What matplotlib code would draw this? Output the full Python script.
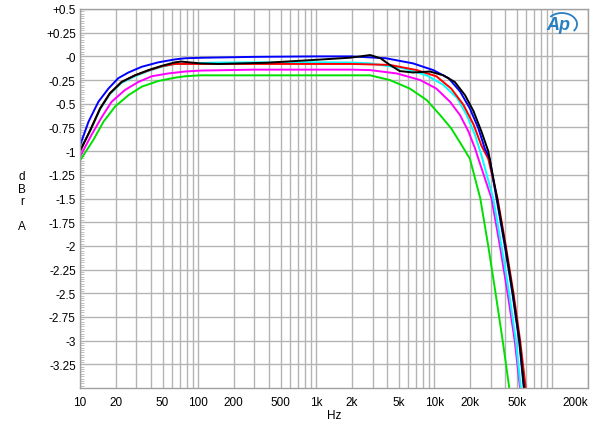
import numpy as np
import matplotlib.pyplot as plt
from matplotlib.patches import Arc
from matplotlib.ticker import FixedLocator, NullFormatter, MultipleLocator

plt.rcParams['font.family'] = ['Liberation Sans', 'DejaVu Sans']

# frequency response, Hz vs dBr
blue_f = [10, 11.8, 14.3, 17.4, 21.1, 25.7, 33.3, 46, 63.7, 77.5, 104, 300, 1000, 2000, 3900, 6600, 9800, 13200, 16500, 20000, 23600, 26700, 29400, 33600, 39500, 45800, 52200, 57200]
blue_db = [-0.94, -0.69, -0.48, -0.34, -0.23, -0.17, -0.11, -0.063, -0.032, -0.02, -0.015, -0.005, 0.0, 0.0, -0.02, -0.074, -0.145, -0.23, -0.37, -0.55, -0.76, -0.97, -1.08, -1.5, -2.0, -2.5, -3.0, -3.5]

cyan_f = [10, 12.2, 14.8, 17.9, 22.5, 29.2, 37.9, 49.2, 63.7, 77.5, 104, 150, 300, 1000, 2000, 2860, 5500, 8600, 11900, 15600, 18800, 22100, 25000, 31500, 37000, 43000, 49000, 54000]
cyan_db = [-0.98, -0.79, -0.56, -0.40, -0.28, -0.21, -0.155, -0.11, -0.08, -0.08, -0.07, -0.065, -0.063, -0.063, -0.065, -0.074, -0.127, -0.20, -0.30, -0.44, -0.62, -0.83, -1.04, -1.5, -2.0, -2.5, -3.0, -3.5]

red_f = [10, 12.2, 14.8, 17.9, 22.5, 29.2, 37.9, 49.2, 63.7, 104, 300, 1000, 2000, 4200, 7100, 10400, 13900, 17600, 21500, 25000, 28600, 34300, 40300, 46800, 53300, 59400]
red_db = [-1.0, -0.78, -0.55, -0.39, -0.27, -0.20, -0.15, -0.105, -0.08, -0.08, -0.08, -0.08, -0.08, -0.09, -0.145, -0.21, -0.34, -0.51, -0.72, -0.94, -1.08, -1.5, -2.0, -2.5, -3.0, -3.5]

black_f = [10, 12.2, 14.8, 17.9, 22.5, 29.2, 37.9, 49.2, 63.7, 72, 104, 150, 383, 886, 1940, 2860, 3500, 4200, 5100, 6600, 9200, 11900, 14900, 18200, 21500, 25000, 28600, 34000, 39900, 46200, 52600, 57600]
black_db = [-1.0, -0.78, -0.55, -0.39, -0.27, -0.20, -0.145, -0.10, -0.063, -0.055, -0.074, -0.08, -0.067, -0.04, -0.014, 0.014, -0.02, -0.09, -0.155, -0.17, -0.16, -0.20, -0.27, -0.41, -0.58, -0.79, -1.0, -1.5, -2.0, -2.5, -3.0, -3.5]

magenta_f = [10, 12.5, 15.3, 18.5, 24, 31.2, 40.5, 55.9, 77.5, 104, 300, 1000, 2000, 2860, 4800, 7600, 10400, 13600, 16500, 19400, 22100, 23600, 30500, 35900, 41700, 47900, 53200]
magenta_db = [-1.06, -0.83, -0.64, -0.48, -0.355, -0.27, -0.21, -0.18, -0.16, -0.15, -0.14, -0.14, -0.14, -0.145, -0.18, -0.25, -0.34, -0.48, -0.62, -0.79, -0.97, -1.08, -1.5, -2.0, -2.5, -3.0, -3.5]

green_f = [10, 13, 15.8, 19.8, 25.7, 33.3, 46, 63.7, 77.5, 104, 300, 1000, 2000, 2860, 4200, 6200, 8600, 11200, 13900, 17100, 20000, 24500, 28600, 33000, 37900, 43100]
green_db = [-1.1, -0.88, -0.69, -0.53, -0.41, -0.32, -0.26, -0.225, -0.21, -0.20, -0.20, -0.20, -0.20, -0.20, -0.25, -0.34, -0.46, -0.62, -0.76, -0.94, -1.08, -1.5, -2.0, -2.5, -3.0, -3.5]

y_ticks = [0.5, 0.25, 0, -0.25, -0.5, -0.75, -1, -1.25, -1.5, -1.75, -2, -2.25, -2.5, -2.75, -3, -3.25]
y_labels = ['+0.5', '+0.25', '-0', '-0.25', '-0.5', '-0.75', '-1', '-1.25', '-1.5', '-1.75', '-2', '-2.25', '-2.5', '-2.75', '-3', '-3.25']
x_ticks = [10, 20, 50, 100, 200, 500, 1000, 2000, 5000, 10000, 20000, 50000, 200000]
x_labels = ['10', '20', '50', '100', '200', '500', '1k', '2k', '5k', '10k', '20k', '50k', '200k']

fig = plt.figure(figsize=(6, 4.31), dpi=100)
ax = fig.add_axes([80/600, 1 - 389/431, 508/600, 379/431])

series = [
    (green_f, green_db, '#00e000'),
    (magenta_f, magenta_db, '#ff00ff'),
    (cyan_f, cyan_db, '#00ffff'),
    (red_f, red_db, '#ff0000'),
    (blue_f, blue_db, '#0000ff'),
    (black_f, black_db, '#000000'),
]
for f, db, c in series:
    ax.plot(f, db, color=c, lw=1.4, solid_joinstyle='round', solid_capstyle='butt')

ax.set_xscale('log')
ax.set_xlim(10, 200000)
ax.set_ylim(-3.5, 0.5)

ax.set_xticks(x_ticks)
ax.set_xticklabels(x_labels)
ax.get_xticklabels()[-1].set_horizontalalignment('right')
minor_x = [m * 10**d for d in range(1, 6) for m in range(1, 10) if 10 <= m * 10**d <= 200000]
ax.xaxis.set_minor_locator(FixedLocator(minor_x))
ax.xaxis.set_minor_formatter(NullFormatter())
ax.set_yticks(y_ticks)
ax.set_yticklabels(y_labels)
ax.yaxis.set_minor_locator(MultipleLocator(0.025))

ax.grid(True, which='major', color='#b4b4b4', lw=1.0)
ax.grid(True, which='minor', axis='x', color='#b4b4b4', lw=1.0)
ax.set_axisbelow(True)

ax.tick_params(axis='x', which='major', labelsize=8.5, length=0, pad=6)
ax.tick_params(axis='y', which='major', labelsize=8.5, length=0, pad=3)
ax.tick_params(axis='x', which='minor', length=0)
ax.tick_params(axis='y', which='minor', direction='in', length=3, color='#b4b4b4', width=0.6)
for s in ax.spines.values():
    s.set_color('#a0a0a0')
    s.set_linewidth(1.0)

fig.text(22/600, 1 - 202/431, 'd\nB\nr\n\nA', ha='center', va='center', fontsize=8.5, linespacing=1.05)
fig.text(334/600, 1 - 416/431, 'Hz', ha='center', va='center', fontsize=8.5)

# Ap logo
fig.text(558/600, 1 - 25/431, 'Ap', ha='center', va='center', fontsize=13, style='italic',
         fontweight='bold', color='#2a7fc0')
fig.patches.append(Arc((562/600, 1 - 25/431), 30/600, 22/431, angle=20, theta1=-60, theta2=120,
                       transform=fig.transFigure, color='#2a7fc0', lw=1.3))

fig.savefig('out.png', dpi=100)
